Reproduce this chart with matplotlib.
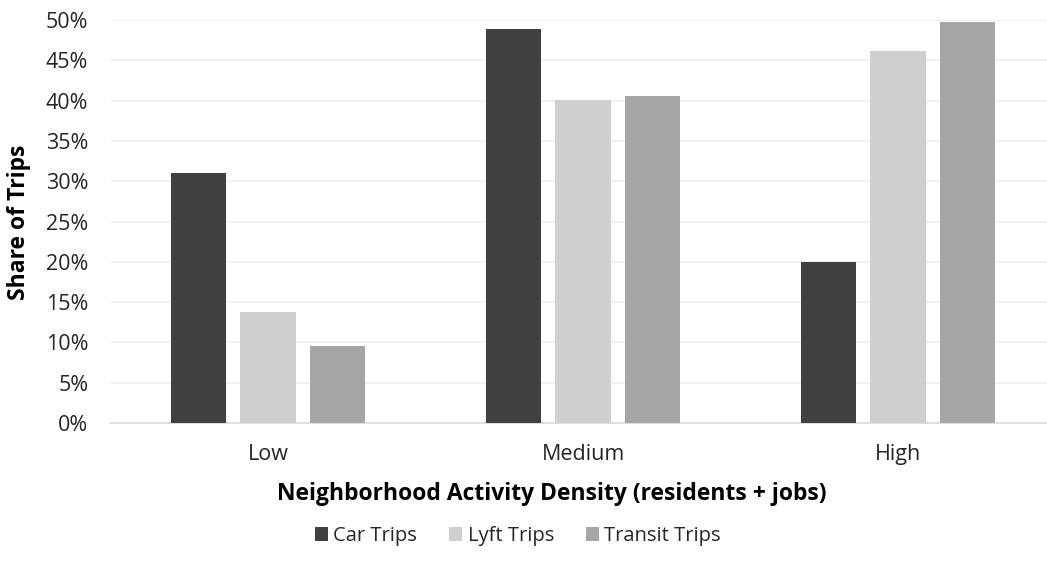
import matplotlib
matplotlib.use("Agg")
import matplotlib.pyplot as plt
import numpy as np
from matplotlib.ticker import PercentFormatter

categories = ["Low", "Medium", "High"]
series_names = ["Car Trips", "Lyft Trips", "Transit Trips"]
car_share = [0.310, 0.489, 0.200]
lyft_share = [0.138, 0.401, 0.461]
transit_share = [0.096, 0.406, 0.498]
yticks = [0, 0.05, 0.10, 0.15, 0.20, 0.25, 0.30, 0.35, 0.40, 0.45, 0.50]

colors = ["#404040", "#D0CFD0", "#A6A6A6"]

plt.rcParams['font.family'] = ['Open Sans', 'DejaVu Sans']

fig = plt.figure(figsize=(10.47, 5.75), dpi=100)
# plot area runs a little past the right edge of the picture
ax = fig.add_axes([110.5 / 1047, 1 - 423 / 575, 945 / 1047, (423 - 20) / 575])

x = np.arange(len(categories))
width = 0.175
step = 0.222
for i, (vals, name) in enumerate(zip([car_share, lyft_share, transit_share], series_names)):
    ax.bar(x + (i - 1) * step, vals, width, color=colors[i], label=name, zorder=3)

ax.set_xlim(-0.5, 2.5)
ax.set_ylim(0, 0.5)
ax.set_yticks(yticks)
ax.yaxis.set_major_formatter(PercentFormatter(1.0, decimals=0))
ax.set_xticks(x)
ax.set_xticklabels(categories)
ax.grid(axis='y', color='#EFEFEF', linewidth=1.2, zorder=0)
for s in ['top', 'right', 'left']:
    ax.spines[s].set_visible(False)
ax.spines['bottom'].set_color('#D9D9D9')
ax.spines['bottom'].set_linewidth(1.2)
ax.tick_params(axis='both', length=0, labelsize=15.5, colors='#262626')
ax.tick_params(axis='x', pad=15)
ax.tick_params(axis='y', pad=16)

fig.text(552 / 1047, 1 - 494 / 575, "Neighborhood Activity Density (residents + jobs)",
         ha='center', va='center', fontsize=16.5, fontweight='bold')
fig.text(19 / 1047, 1 - 222 / 575, "Share of Trips", rotation=90,
         ha='center', va='center', fontsize=16.5, fontweight='bold')

leg = fig.legend(loc='center', bbox_to_anchor=(518 / 1047, 1 - 536 / 575), ncol=3,
                 frameon=False, fontsize=14.5, handlelength=0.65, handleheight=0.65,
                 handletextpad=0.25, columnspacing=1.6, labelcolor='#262626')

fig.savefig("out.png", dpi=100)
